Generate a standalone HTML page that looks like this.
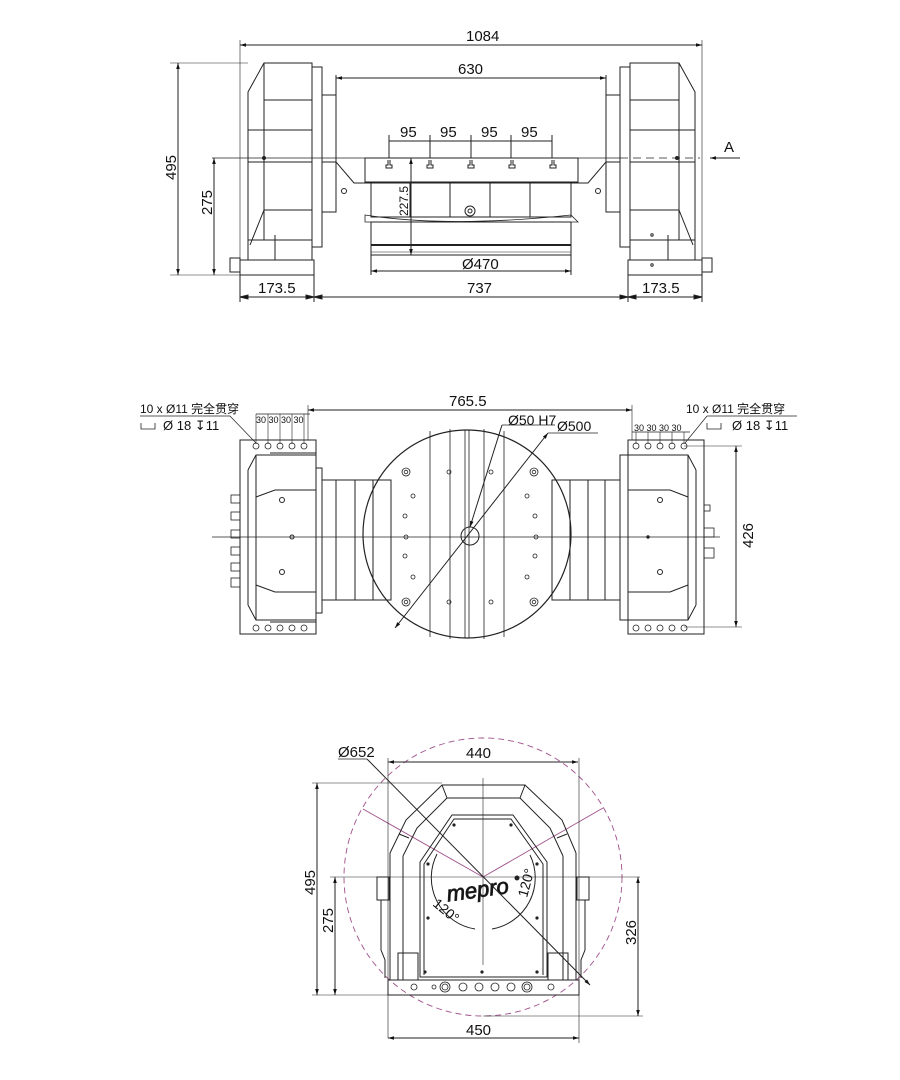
<!DOCTYPE html>
<html><head><meta charset="utf-8"><style>
html,body{margin:0;padding:0;background:#fff;}
svg{display:block;}
text{font-family:"Liberation Sans","Noto Sans CJK SC",sans-serif;fill:#111;}
</style></head><body>
<svg width="900" height="1080" viewBox="0 0 900 1080" xmlns="http://www.w3.org/2000/svg">
<defs>
<marker id="a" viewBox="0 0 10 10" refX="10" refY="5" markerWidth="8" markerHeight="6" orient="auto-start-reverse"><path d="M0,2 L10,5 L0,8 z" fill="#111"/></marker>
</defs>
<g fill="none" stroke="#222" stroke-width="1">
<!-- ============ TOP VIEW ============ -->
<line x1="240" y1="45" x2="702" y2="45" marker-start="url(#a)" marker-end="url(#a)"/>
<line x1="240" y1="40" x2="240" y2="260" stroke-width="0.6"/>
<line x1="702" y1="40" x2="702" y2="260" stroke-width="0.6"/>
<!-- left housing -->
<path d="M248,92 L264,63 L312,63 L312,260 L248,260 Z"/>
<line x1="264" y1="63" x2="264" y2="240"/>
<path d="M264,100 L312,100 M248,130 L312,130 M248,162 L312,162 M264,210 L312,210 M248,240 L312,240"/>
<path d="M264,210 L250,245 M275,235 L275,260"/>
<rect x="312" y="67" width="10" height="180"/>
<rect x="322" y="95" width="14" height="117"/>
<rect x="240" y="260" width="74" height="15"/>
<rect x="230" y="258" width="10" height="14"/>
<circle cx="264" cy="158" r="1.5" fill="#222"/>
<!-- right housing -->
<path d="M695,92 L679,63 L630,63 L630,260 L695,260 Z"/>
<line x1="679" y1="63" x2="679" y2="240"/>
<path d="M630,100 L679,100 M630,130 L695,130 M630,162 L695,162 M630,210 L679,210 M630,240 L695,240"/>
<path d="M679,210 L693,245 M668,235 L668,260"/>
<rect x="620" y="67" width="10" height="180"/>
<rect x="606" y="95" width="14" height="117"/>
<rect x="628" y="260" width="74" height="15"/>
<rect x="702" y="258" width="10" height="14"/>
<circle cx="677" cy="158" r="1.5" fill="#222"/>
<circle cx="652" cy="235" r="1.2"/><circle cx="652" cy="265" r="1.2"/>
<!-- trunnion -->
<path d="M336,75 L336,162 L354,183 L588,183 L606,162 L606,75"/>
<rect x="365" y="158" width="213" height="24"/>
<path d="M322,162 L336,162 L336,212 L322,212 M606,162 L620,162 L620,212 L606,212"/>
<rect x="371" y="182" width="200" height="35"/>
<path d="M410,182 L410,217 M450,182 L450,217 M490,182 L490,217 M530,182 L530,217"/>
<path d="M365,215 Q450,228 571,215 L578,222 L365,222 Z" stroke-width="0.8"/>
<rect x="371" y="222" width="200" height="33"/>
<line x1="371" y1="245" x2="571" y2="245" stroke-width="2"/>
<line x1="371" y1="252" x2="571" y2="252" stroke-width="0.6"/>
<circle cx="470" cy="211" r="5"/><circle cx="470" cy="211" r="2"/>
<circle cx="344" cy="191" r="2.5"/><circle cx="598" cy="191" r="2.5"/>
<!-- T-slots -->
<path d="M388,160 v5 h-2 v3 h6 v-3 h-2 v-5 M429,160 v5 h-2 v3 h6 v-3 h-2 v-5 M470,160 v5 h-2 v3 h6 v-3 h-2 v-5 M511,160 v5 h-2 v3 h6 v-3 h-2 v-5 M552,160 v5 h-2 v3 h6 v-3 h-2 v-5"/>
<!-- dims -->
<line x1="336" y1="78" x2="606" y2="78" marker-start="url(#a)" marker-end="url(#a)"/>
<line x1="389" y1="141" x2="552" y2="141"/>
<path d="M389,135 v23 M430,135 v23 M471,135 v23 M511,135 v23 M552,135 v23"/>
<line x1="212" y1="158" x2="620" y2="158" stroke-width="0.8"/>
<line x1="620" y1="158" x2="700" y2="158" stroke-dasharray="8,5" stroke-width="0.8"/>
<line x1="740" y1="158" x2="710" y2="158" marker-end="url(#a)"/>
<line x1="178" y1="63" x2="178" y2="275" marker-start="url(#a)" marker-end="url(#a)"/>
<line x1="170" y1="63" x2="248" y2="63" stroke-width="0.6"/>
<line x1="170" y1="275" x2="240" y2="275" stroke-width="0.6"/>
<line x1="214" y1="158" x2="214" y2="275" marker-start="url(#a)" marker-end="url(#a)"/>
<line x1="411" y1="158" x2="411" y2="255" marker-start="url(#a)" marker-end="url(#a)"/>
<line x1="371" y1="271" x2="571" y2="271" marker-start="url(#a)" marker-end="url(#a)"/>
<path d="M371,255 v20 M571,255 v20"/>
<line x1="240" y1="297" x2="702" y2="297"/>
<path d="M240,275 v27 M314,275 v27 M628,275 v27 M702,275 v27"/>
<path d="M314,297 l-8,-2 v4 z M314,297 l8,-2 v4 z M628,297 l-8,-2 v4 z M628,297 l8,-2 v4 z M240,297 l8,-2 v4z M702,297 l-8,-2 v4z" fill="#111"/>

<!-- ============ MIDDLE VIEW ============ -->
<line x1="308" y1="410" x2="632" y2="410" marker-start="url(#a)" marker-end="url(#a)"/>
<path d="M308,405 v35 M632,405 v35" stroke-width="0.6"/>
<!-- left -->
<rect x="240" y="440" width="76" height="194"/>
<path d="M248,470 L256,455 L316,455 M248,605 L256,620 L316,620 M248,470 L248,605 M256,455 L256,620"/>
<path d="M256,497 L275,490 L316,490 M256,585 L275,592 L316,592"/>
<line x1="270" y1="453" x2="316" y2="453"/><line x1="270" y1="622" x2="316" y2="622"/>
<rect x="316" y="468" width="6" height="145"/>
<rect x="322" y="480" width="14" height="120"/>
<rect x="336" y="480" width="55" height="120"/>
<path d="M355,480 v120 M373,480 v120"/>
<circle cx="282" cy="500" r="2.5"/><circle cx="282" cy="572" r="2.5"/><circle cx="292" cy="537" r="2"/>
<g stroke-width="0.8">
<circle cx="256" cy="446" r="3"/><circle cx="268" cy="446" r="3"/><circle cx="280" cy="446" r="3"/><circle cx="292" cy="446" r="3"/><circle cx="304" cy="446" r="3"/>
<circle cx="256" cy="628" r="3"/><circle cx="268" cy="628" r="3"/><circle cx="280" cy="628" r="3"/><circle cx="292" cy="628" r="3"/><circle cx="304" cy="628" r="3"/>
<rect x="231" y="495" width="9" height="8"/><rect x="231" y="512" width="9" height="8"/><rect x="231" y="530" width="9" height="8"/><rect x="231" y="547" width="9" height="8"/><rect x="231" y="563" width="9" height="8"/><rect x="231" y="578" width="9" height="9"/>
</g>
<!-- right -->
<rect x="628" y="440" width="76" height="194"/>
<path d="M696,470 L688,455 L628,455 M696,605 L688,620 L628,620 M696,470 L696,605 M688,455 L688,620"/>
<path d="M688,497 L670,490 L628,490 M688,585 L670,592 L628,592"/>
<rect x="620" y="455" width="8" height="165"/>
<rect x="605" y="480" width="15" height="120"/>
<rect x="552" y="480" width="53" height="120"/>
<path d="M570,480 v120 M588,480 v120"/>
<circle cx="660" cy="500" r="2.5"/><circle cx="660" cy="572" r="2.5"/><circle cx="648" cy="537" r="1.2" fill="#222"/>
<g stroke-width="0.8">
<circle cx="636" cy="446" r="3"/><circle cx="648" cy="446" r="3"/><circle cx="660" cy="446" r="3"/><circle cx="672" cy="446" r="3"/><circle cx="684" cy="446" r="3"/>
<circle cx="636" cy="628" r="3"/><circle cx="648" cy="628" r="3"/><circle cx="660" cy="628" r="3"/><circle cx="672" cy="628" r="3"/><circle cx="684" cy="628" r="3"/>
<rect x="704" y="528" width="10" height="9"/><rect x="704" y="548" width="10" height="10"/><rect x="704" y="505" width="6" height="6"/>
</g>
<!-- big table -->
<circle cx="467" cy="534" r="104" stroke-width="1.2"/>
<path d="M430,431 v206 M450,429 v210 M465,430 v208 M469,430 v208 M484,429 v210 M504,431 v206" stroke-width="0.8"/>
<circle cx="470" cy="536" r="9"/>
<line x1="212" y1="537" x2="720" y2="537" stroke-width="0.7"/>
<g stroke-width="0.8">
<circle cx="406" cy="472" r="4"/><circle cx="406" cy="472" r="1.8"/><circle cx="534" cy="472" r="4"/><circle cx="534" cy="472" r="1.8"/>
<circle cx="406" cy="602" r="4"/><circle cx="406" cy="602" r="1.8"/><circle cx="534" cy="602" r="4"/><circle cx="534" cy="602" r="1.8"/>
<circle cx="449" cy="472" r="2"/><circle cx="491" cy="472" r="2"/><circle cx="449" cy="602" r="2"/><circle cx="491" cy="602" r="2"/>
<circle cx="413" cy="496" r="2"/><circle cx="405" cy="516" r="2"/><circle cx="406" cy="537" r="2"/><circle cx="405" cy="556" r="2"/><circle cx="413" cy="577" r="2"/>
<circle cx="527" cy="496" r="2"/><circle cx="535" cy="516" r="2"/><circle cx="536" cy="537" r="2"/><circle cx="535" cy="556" r="2"/><circle cx="527" cy="577" r="2"/>
</g>
<line x1="395" y1="628" x2="548" y2="433" marker-start="url(#a)" marker-end="url(#a)"/>
<line x1="548" y1="433" x2="598" y2="433" stroke-width="0.7"/>
<line x1="470" y1="527" x2="502" y2="425" marker-start="url(#a)"/>
<line x1="502" y1="425" x2="555" y2="425" stroke-width="0.7"/>
<line x1="736" y1="446" x2="736" y2="627" marker-start="url(#a)" marker-end="url(#a)"/>
<path d="M684,446 h58 M684,627 h58" stroke-width="0.6"/>
<line x1="256" y1="414" x2="310" y2="414" stroke-width="0.7"/>
<path d="M256,414 v30 M268,414 v30 M280,414 v30 M292,414 v30 M304,414 v30" stroke-width="0.6"/>
<line x1="632" y1="432" x2="690" y2="432" stroke-width="0.7"/>
<path d="M636,432 v12 M648,432 v12 M660,432 v12 M672,432 v12 M684,432 v12" stroke-width="0.6"/>
<path d="M140,416 h90 L256,443" stroke-width="0.7"/>
<path d="M707,416 h90 M707,416 L685,443" stroke-width="0.7"/>
<path d="M141,423 v6 h14 v-6 M707,423 v6 h14 v-6" stroke-width="0.8"/>

<!-- ============ BOTTOM VIEW ============ -->
<circle cx="483" cy="877" r="139" stroke="#a0508a" stroke-dasharray="6,4" stroke-width="0.9"/>
<path d="M363,809 L483,877 L603,808" stroke="#a0508a" stroke-width="0.9"/>
<path d="M390,853 L406,820 L442,785 L525,785 L562,820 L576,853"/>
<path d="M403,856 L417,828 L447,798 L520,798 L550,828 L563,856"/>
<path d="M390,853 L390,980 M576,853 L576,980 M403,856 L403,980 M563,856 L563,980"/>
<path d="M399,834 L409,838 M442,785 L447,798 M525,785 L520,798 M567,834 L557,838"/>
<path d="M420,977 L420,862 L452,815 L513,815 L547,862 L547,977 Z"/>
<path d="M424,975 L424,864 L454,819 L511,819 L543,864 L543,975"/>
<rect x="377" y="877" width="12" height="23"/><rect x="577" y="877" width="12" height="23"/>
<path d="M381,900 v50 l4,10 v18 M585,900 v50 l-4,10 v18"/>
<rect x="398" y="953" width="20" height="27"/><rect x="548" y="953" width="20" height="27"/>
<rect x="388" y="980" width="191" height="15"/>
<g stroke-width="0.8">
<circle cx="414" cy="987" r="3"/><circle cx="434" cy="987" r="2"/><circle cx="445" cy="987" r="5"/><circle cx="445" cy="987" r="3"/>
<circle cx="463" cy="987" r="4"/><circle cx="479" cy="987" r="4"/><circle cx="495" cy="987" r="4"/><circle cx="511" cy="987" r="4"/>
<circle cx="527" cy="987" r="5"/><circle cx="527" cy="987" r="3"/><circle cx="551" cy="987" r="3"/>
</g>
<g fill="#222" stroke="none">
<circle cx="454" cy="825" r="1.6"/><circle cx="511" cy="825" r="1.6"/><circle cx="428" cy="864" r="1.6"/><circle cx="537" cy="864" r="1.6"/>
<circle cx="428" cy="918" r="1.6"/><circle cx="537" cy="918" r="1.6"/><circle cx="425" cy="972" r="1.6"/><circle cx="482" cy="972" r="1.6"/><circle cx="537" cy="972" r="1.6"/><circle cx="517" cy="878" r="2.5"/>
</g>
<path d="M437,854 A52,52 0 0 0 475,929" />
<path d="M492,929 A52,52 0 0 0 530,855"/>
<line x1="483" y1="778" x2="483" y2="965" stroke-width="0.6"/>
<line x1="330" y1="877" x2="640" y2="877" stroke-width="0.6"/>
<line x1="338" y1="759" x2="367" y2="759" stroke-width="0.7"/>
<line x1="367" y1="759" x2="590" y2="985" marker-end="url(#a)"/>
<line x1="388" y1="762" x2="578" y2="762" marker-start="url(#a)" marker-end="url(#a)"/>
<path d="M388,758 v280 M579,758 v285" stroke-width="0.6"/>
<line x1="388" y1="1038" x2="579" y2="1038" marker-start="url(#a)" marker-end="url(#a)"/>
<line x1="317" y1="783" x2="317" y2="995" marker-start="url(#a)" marker-end="url(#a)"/>
<path d="M312,783 h130 M312,995 h76" stroke-width="0.6"/>
<line x1="335" y1="877" x2="335" y2="995" marker-start="url(#a)" marker-end="url(#a)"/>
<line x1="638" y1="877" x2="638" y2="1016" marker-start="url(#a)" marker-end="url(#a)"/>
<path d="M483,1016 h160" stroke-width="0.6"/>
</g>

<!-- TEXT -->
<g font-size="15">
<text x="466" y="41">1084</text>
<text x="458" y="74">630</text>
<text x="400" y="137">95</text><text x="440" y="137">95</text><text x="481" y="137">95</text><text x="521" y="137">95</text>
<text x="724" y="152">A</text>
<text x="462" y="269">Ø470</text>
<text x="258" y="293">173.5</text><text x="467" y="293">737</text><text x="642" y="293">173.5</text>
<text transform="translate(176,180) rotate(-90)">495</text>
<text transform="translate(212,215) rotate(-90)">275</text>
<text font-size="12" transform="translate(408,216) rotate(-90)">227.5</text>
<text x="449" y="406">765.5</text>
<text x="508" y="425" font-size="14">Ø50 H7</text>
<text x="557" y="431" font-size="14">Ø500</text>
<text transform="translate(753,548) rotate(-90)">426</text>
<text x="140" y="413" font-size="12">10 x Ø11 完全贯穿</text>
<text x="163" y="430" font-size="13">Ø 18 ↧11</text>
<text x="686" y="413" font-size="12">10 x Ø11 完全贯穿</text>
<text x="732" y="430" font-size="13">Ø 18 ↧11</text>
<text x="256" y="423" font-size="9">30 30 30 30</text>
<text x="634" y="431" font-size="9">30 30 30 30</text>
<text x="338" y="757">Ø652</text>
<text x="466" y="758">440</text>
<text x="466" y="1035">450</text>
<text transform="translate(315,895) rotate(-90)">495</text>
<text transform="translate(333,933) rotate(-90)">275</text>
<text transform="translate(636,945) rotate(-90)">326</text>
<text x="446" y="897" font-size="22" font-style="italic" font-family="Liberation Serif,serif" fill="#fff" stroke="#222" stroke-width="0.8" transform="rotate(-8 480 887)">mepro</text>
<text transform="translate(432,905) rotate(40)" font-size="14">120°</text>
<text transform="translate(527,898) rotate(-75)" font-size="14">120°</text>
</g>
</svg>
</body></html>
